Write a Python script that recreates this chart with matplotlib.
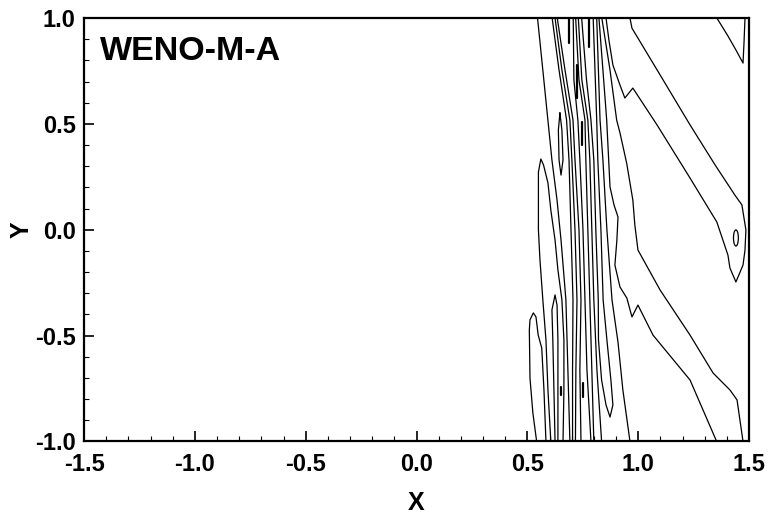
import matplotlib
matplotlib.use("Agg")
import matplotlib.pyplot as plt
from matplotlib.patches import Ellipse
from matplotlib.ticker import MultipleLocator

plt.rcParams['font.family'] = ['Liberation Sans', 'DejaVu Sans']

# ---- contour lines (data units) ----
v1_x = [0.546, 0.579, 0.611, 0.634, 0.652, 0.674, 0.683, 0.692]
v1_y = [1.0, 0.660, 0.329, 0.140, -0.049, -0.332, -0.663, -1.0]

t1_x = [0.606, 0.593, 0.584, 0.570, 0.557, 0.550, 0.550, 0.561, 0.573, 0.593, 0.606, 0.625, 0.638, 0.656, 0.665, 0.665, 0.661]
t1_y = [-1.0, -0.757, -0.521, -0.332, -0.143, -0.001, 0.272, 0.334, 0.306, 0.221, 0.093, -0.049, -0.190, -0.332, -0.521, -0.757, -1.0]

t2_x = [0.542, 0.525, 0.512, 0.509, 0.512, 0.527, 0.539, 0.549, 0.565, 0.575, 0.584]
t2_y = [-1.0, -0.866, -0.701, -0.474, -0.426, -0.393, -0.412, -0.498, -0.559, -0.757, -1.0]

t3_x = [0.625, 0.620, 0.615, 0.611, 0.625, 0.634, 0.638, 0.638, 0.638]
t3_y = [-1.0, -0.757, -0.521, -0.379, -0.308, -0.356, -0.521, -0.757, -1.0]

t4_x = [0.647, 0.640, 0.643, 0.652, 0.661, 0.656, 0.647]
t4_y = [0.551, 0.471, 0.329, 0.258, 0.329, 0.471, 0.551]

b_y = [1.0, 0.754, 0.518, 0.329, -0.001, -0.332, -0.663, -1.0]
b1_x = [0.612, 0.643, 0.677, 0.688, 0.697, 0.706, 0.704, 0.704]
b2_x = [0.625, 0.656, 0.692, 0.701, 0.715, 0.724, 0.719, 0.717]
b3_x = [0.635, 0.670, 0.706, 0.715, 0.733, 0.742, 0.737, 0.742]
b4_x = [0.707, 0.710, 0.728, 0.737, 0.751, 0.760, 0.769, 0.787]
b5_x = [0.718, 0.733, 0.760, 0.764, 0.773, 0.782, 0.791, 0.800]
b6_x = [0.730, 0.746, 0.773, 0.782, 0.791, 0.800, 0.814, 0.835]
b_y2 = [1.0, 0.707, 0.518, 0.329, -0.001, -0.332, -0.663, -1.0]

t5_x = [0.745, 0.767, 0.787, 0.800, 0.809, 0.820, 0.821, 0.835, 0.855, 0.873, 0.886, 0.877, 0.859, 0.842, 0.832, 0.818, 0.813, 0.797]
t5_y = [1.0, 0.707, 0.518, 0.329, -0.001, -0.332, -0.521, -0.710, -0.828, -0.885, -0.828, -0.710, -0.521, -0.332, -0.001, 0.329, 0.518, 1.0]

g_x = [0.813, 0.828, 0.841, 0.859, 0.882, 0.909, 0.931, 0.963]
g_y = [1.0, 0.518, 0.329, -0.001, -0.332, -0.531, -0.757, -1.0]

f_x = [0.823, 0.841, 0.858, 0.873, 0.891, 0.909, 0.904, 0.895, 0.918, 0.949, 0.972, 0.999, 1.067, 1.234, 1.354]
f_y = [1.0, 0.754, 0.518, 0.202, 0.117, 0.060, -0.049, -0.167, -0.271, -0.323, -0.412, -0.356, -0.498, -0.710, -1.0]

e_x = [0.836, 0.873, 0.903, 0.918, 0.948, 0.976, 0.985, 0.999, 1.099, 1.234, 1.338, 1.414, 1.446, 1.473]
e_y = [1.0, 0.754, 0.518, 0.457, 0.315, 0.140, 0.022, -0.096, -0.285, -0.498, -0.677, -0.757, -0.804, -1.0]

d_x = [0.855, 0.868, 0.886, 0.918, 0.940, 0.976, 1.085, 1.234, 1.355, 1.405, 1.414, 1.441, 1.473, 1.482, 1.486, 1.468, 1.436, 1.347, 1.234, 1.099, 0.972, 0.963]
d_y = [1.0, 0.896, 0.778, 0.683, 0.622, 0.669, 0.495, 0.244, 0.036, -0.120, -0.181, -0.247, -0.167, -0.096, -0.001, 0.117, 0.164, 0.306, 0.495, 0.731, 0.952, 1.0]

r1_x = [1.355, 1.405, 1.441, 1.473, 1.477, 1.482]
r1_y = [1.0, 0.915, 0.849, 0.787, 0.872, 1.0]

# small closed loop near the right edge: centre, width, height
loop_cx, loop_cy, loop_w, loop_h = 1.441, -0.039, 0.022, 0.076

# short islands: x, y_top, y_bottom
isl_x = [0.690, 0.776, 0.722, 0.746, 0.654, 0.752]
isl_top = [1.0, 1.0, 0.778, 0.509, -0.743, -0.724]
isl_bot = [0.882, 0.863, 0.622, 0.400, -0.781, -0.790]

x_ticks = [-1.5, -1.0, -0.5, 0.0, 0.5, 1.0, 1.5]
y_ticks = [-1.0, -0.5, 0.0, 0.5, 1.0]
title_text = "WENO-M-A"

# ---- figure ----
fig = plt.figure(figsize=(7.71, 5.17), dpi=100)
ax = fig.add_axes([84/771, 1-441.4/517, (749-84)/771, (441.4-18)/517])

lines = [(v1_x, v1_y), (t1_x, t1_y), (t2_x, t2_y), (t3_x, t3_y), (t4_x, t4_y),
         (b1_x, b_y), (b2_x, b_y), (b3_x, b_y), (b4_x, b_y2), (b5_x, b_y2), (b6_x, b_y2),
         (t5_x, t5_y), (g_x, g_y), (f_x, f_y), (e_x, e_y), (d_x, d_y), (r1_x, r1_y)]
for xs, ys in lines:
    ax.plot(xs, ys, color='black', lw=0.9, clip_on=True)

ax.add_patch(Ellipse((loop_cx, loop_cy), loop_w, loop_h, fill=False, ec='black', lw=0.9))
for xi, yt, yb in zip(isl_x, isl_top, isl_bot):
    ax.plot([xi, xi], [yt, yb], color='black', lw=1.6, solid_capstyle='round')

ax.set_xlim(-1.5, 1.5)
ax.set_ylim(-1.0, 1.0)
ax.set_xticks(x_ticks)
ax.set_yticks(y_ticks)
ax.set_xticklabels([f"{v:.1f}" for v in x_ticks])
ax.set_yticklabels([f"{v:.1f}" for v in y_ticks])
ax.xaxis.set_minor_locator(MultipleLocator(0.1))
ax.yaxis.set_minor_locator(MultipleLocator(0.1))
ax.tick_params(which='both', direction='in', top=False, right=False, width=1.2)
ax.tick_params(which='major', length=7)
ax.tick_params(which='minor', length=3.5, width=0.8)
ax.tick_params(axis='x', which='major', pad=8, labelsize=17)
ax.tick_params(axis='y', which='major', pad=6, labelsize=17)
for lab in ax.get_xticklabels() + ax.get_yticklabels():
    lab.set_fontweight('bold')
for sp in ax.spines.values():
    sp.set_linewidth(1.6)

ax.set_xlabel("X", fontsize=18, fontweight='bold', labelpad=11)
ax.set_ylabel("Y", fontsize=18, fontweight='bold', labelpad=1)
ax.text(-1.428, 0.802, title_text, fontsize=24.5, fontweight='bold', va='baseline', ha='left')

fig.savefig("out.png", dpi=100)
